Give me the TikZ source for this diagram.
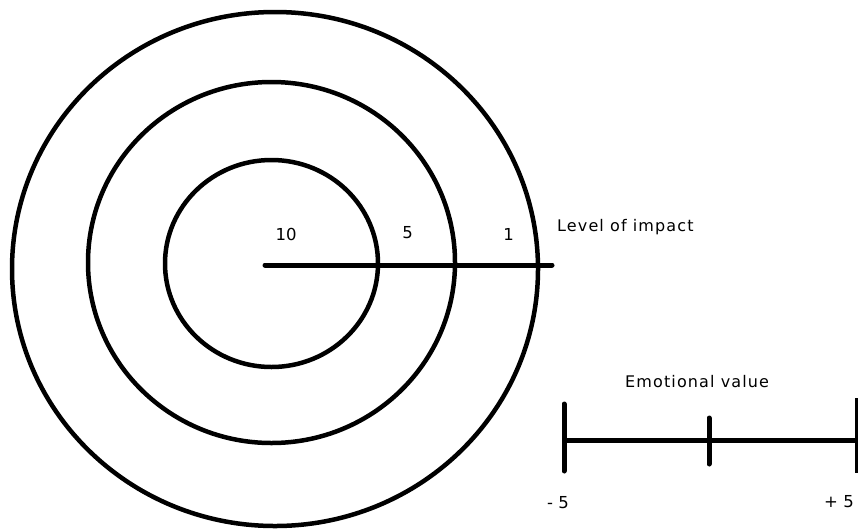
\documentclass[tikz,border=0pt]{standalone}
\usepackage{fontspec}
\newfontfamily\labfont[LetterSpace=7]{DejaVu Sans}
\newfontfamily\numfont{DejaVu Sans}
\begin{document}
\begin{tikzpicture}[x=1pt,y=-1pt,
  ring/.style={draw=black,line width=4.5pt},
  bar/.style={draw=black,line width=5pt,line cap=round},
  lab/.style={inner sep=0pt,font=\labfont\fontsize{16}{18}\selectfont},
  num/.style={inner sep=0pt,font=\numfont\fontsize{16.5}{18}\selectfont}]
\useasboundingbox[fill=white] (0,0) rectangle (858,528);
% rings
\draw[ring] (271.5,263.5) ellipse [x radius=106.5, y radius=103.5];
\draw[ring] (271.5,262.5) ellipse [x radius=183.5, y radius=180.5];
\draw[ring] (275,269) ellipse [x radius=263, y radius=257];
% impact axis
\coordinate (c0) at (265,265);
\coordinate (c1) at (552,265);
\draw[bar] (c0) -- (c1);
\node[num,anchor=base] (n10) at (286,240) {10};
\node[num,anchor=base] (n5) at (407.5,238) {5};
\node[num,anchor=base] (n1) at (508.5,240) {1};
\node[lab,anchor=base west] (loi) at (557,231) {Level of impact};
% emotional scale
\coordinate (e0) at (564,440);
\coordinate (e1) at (857,440);
\draw[bar,line cap=butt] (e0) -- (e1);
\coordinate (t0a) at (564,404);
\coordinate (t0b) at (564,471);
\coordinate (t1a) at (709,418);
\coordinate (t1b) at (709,464);
\coordinate (t2a) at (857,398);
\coordinate (t2b) at (857,473);
\draw[bar] (t0a) -- (t0b);
\draw[bar] (t1a) -- (t1b);
\draw[draw=black,line width=3.5pt] (t2a) -- (t2b);
\node[lab,anchor=base west] (ev) at (625,387) {Emotional value};
\node[num,anchor=base west] (m5) at (547,508) {- 5};
\node[num,anchor=base east] (p5) at (854,507) {+ 5};
\end{tikzpicture}
\end{document}
